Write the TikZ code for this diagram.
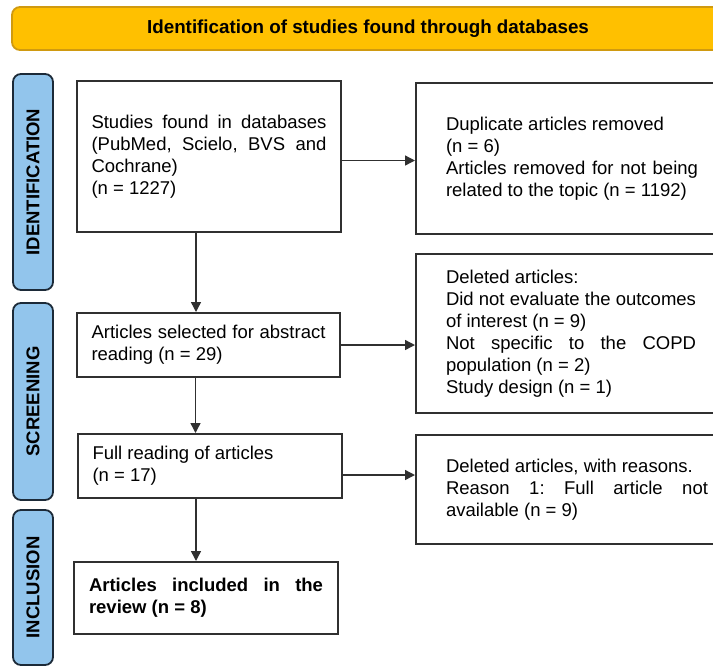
\documentclass[tikz,border=0pt]{standalone}
\usepackage{fontspec}
\setmainfont{Liberation Sans}
\usepackage{xcolor}
\usetikzlibrary{positioning,arrows.meta}

\hyphenpenalty=10000
\exhyphenpenalty=10000
\tolerance=10000
\frenchspacing

\definecolor{bannerfill}{HTML}{FFC000}
\definecolor{bannerline}{HTML}{D09A10}
\definecolor{phasefill}{HTML}{92C5EC}
\definecolor{phaseline}{HTML}{1C2A38}
\definecolor{boxline}{HTML}{303030}

\begin{document}
\begin{tikzpicture}[
    x=0.5pt, y=-0.5pt,
    every node/.style={font=\fontsize{9.25}{11}\selectfont},
    box/.style={
        rectangle,
        draw=boxline,
        line width=1pt,
        anchor=north west,
        align=justify,
        inner ysep=2pt
    },
    phase/.style={
        rectangle,
        rounded corners=4pt,
        draw=phaseline,
        fill=phasefill,
        line width=0.9pt,
        rotate=90,
        minimum height=20pt,
        font=\fontsize{9.25}{11}\selectfont\bfseries
    },
    arrow/.style={
        -{Triangle[length=5pt,width=5pt]},
        draw=boxline,
        line width=0.7pt
    }
]
\useasboundingbox (0,0) rectangle (713,666);
\clip (0,0) rectangle (713,666);

% title banner
\node[rectangle, rounded corners=4pt, draw=bannerline, fill=bannerfill,
    line width=0.9pt, minimum width=356pt, minimum height=21.5pt,
    font=\fontsize{9.4}{11}\selectfont\bfseries] (banner) at (368,28.5)
{Identification of studies found through databases};

% phases
\node[phase, minimum width=108pt] (ident) at (33,182) {IDENTIFICATION};
\node[phase, minimum width=98.5pt] (screen) at (33,401.5) {SCREENING};
\node[phase, minimum width=77.5pt] (incl) at (33,587.5) {INCLUSION};

% main column
\node[box, minimum width=132pt, minimum height=75.5pt, text width=117.5pt,
    inner xsep=7.25pt] (found) at (76,80)
{Studies found in databases (PubMed, Scielo, BVS and Cochrane)\\(n = 1227)};

\node[box, minimum width=131.5pt, minimum height=32pt, text width=117pt,
    inner xsep=7.25pt] (abstract) at (76,312)
{Articles selected for abstract reading (n = 29)};

\node[box, minimum width=132pt, minimum height=32pt, text width=117.5pt,
    inner xsep=7.25pt] (fullread) at (77,433)
{Full reading of articles\\(n = 17)};

\node[box, minimum width=132pt, minimum height=36pt, text width=117pt,
    inner xsep=7.5pt, font=\fontsize{9.25}{11}\selectfont\bfseries] (included) at (73,561)
{Articles included in the review (n = 8)};

% excluded column
\node[box, minimum height=75.5pt, text width=126pt, inner xsep=15pt] (removed) at (415,82)
{Duplicate articles removed\\(n = 6)\\Articles removed for not being related to the topic (n = 1192)};

\node[box, minimum height=79.5pt, text width=125pt, inner xsep=15pt] (deleted) at (415,253)
{Deleted articles:\\Did not evaluate the outcomes of interest (n = 9)\\Not specific to the COPD population (n = 2)\\Study design (n = 1)};

\node[box, minimum height=54.5pt, text width=131pt, inner xsep=15pt] (reasons) at (415,434)
{Deleted articles, with reasons.\\Reason 1: Full article not available (n = 9)};

% connectors
\draw[arrow] ([xshift=-6.5pt]found.south) -- ([xshift=-6.5pt]found.south |- abstract.north);
\draw[arrow] ([xshift=-6.5pt]abstract.south) -- ([xshift=-6.5pt]abstract.south |- fullread.north);
\draw[arrow] ([xshift=-7pt]fullread.south) -- ([xshift=-7pt]fullread.south |- included.north);

\draw[arrow] ([yshift=-2pt]found.east) -- ([yshift=-2pt]found.east -| removed.west);
\draw[arrow] (abstract.east) -- (abstract.east -| deleted.west);
\draw[arrow] ([yshift=-4.5pt]fullread.east) -- ([yshift=-4.5pt]fullread.east -| reasons.west);

\end{tikzpicture}
\end{document}
